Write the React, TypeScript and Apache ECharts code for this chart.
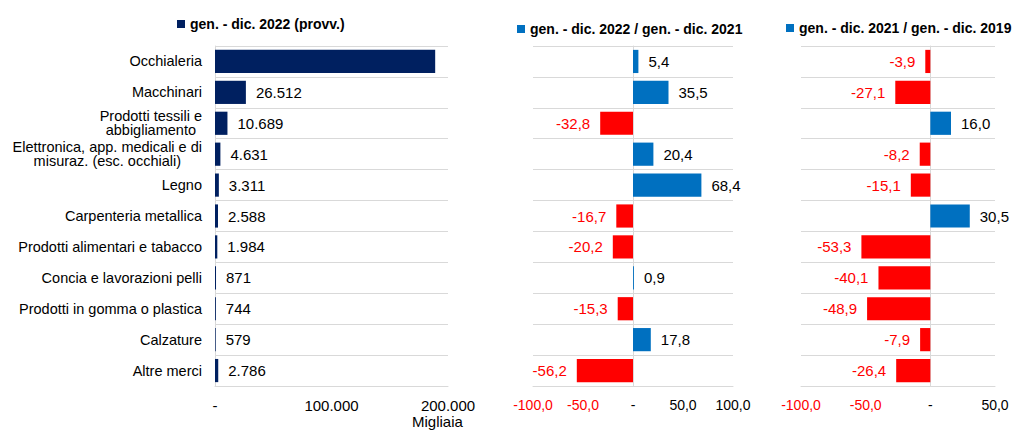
import React, { useEffect, useRef } from "react";
import * as echarts from "echarts";

const categories = [
  "Occhialeria",
  "Macchinari",
  "Prodotti tessili e\nabbigliamento",
  "Elettronica, app. medicali e di\nmisuraz. (esc. occhiali)",
  "Legno",
  "Carpenteria metallica",
  "Prodotti alimentari e tabacco",
  "Concia e lavorazioni pelli",
  "Prodotti in gomma o plastica",
  "Calzature",
  "Altre merci",
];

const values2022 = [189000, 26512, 10689, 4631, 3311, 2588, 1984, 871, 744, 579, 2786];
const change22vs21 = [5.4, 35.5, -32.8, 20.4, 68.4, -16.7, -20.2, 0.9, -15.3, 17.8, -56.2];
const change21vs19 = [-3.9, -27.1, 16.0, -8.2, -15.1, 30.5, -53.3, -40.1, -48.9, -7.9, -26.4];

const seriesNames = [
  "gen. - dic. 2022 (provv.)",
  "gen. - dic. 2022 / gen. - dic. 2021",
  "gen. - dic. 2021 / gen. - dic. 2019",
];

const hiddenLabelIndex = [0];

const FONT = "'Liberation Sans', Arial, sans-serif";
const NAVY = "#002060";
const BLUE = "#0070C0";
const RED = "#FF0000";
const GRID_COLOR = "#d9d9d9";

function fmtThousands(v: number): string {
  const s = Math.round(Math.abs(v)).toString();
  const out = s.replace(/\B(?=(\d{3})+(?!\d))/g, ".");
  return (v < 0 ? "-" : "") + out;
}
function fmtDec(v: number): string {
  return v.toFixed(1).replace(".", ",");
}

export default function App() {
  const ref = useRef<HTMLDivElement>(null);
  useEffect(() => {
    document.body.style.margin = "0";
    if (!ref.current) return;
    const chart = echarts.init(ref.current, undefined, { renderer: "svg" });

    const grids = [
      { left: 215, top: 46, width: 233, height: 340 },
      { left: 533, top: 46, width: 200, height: 340 },
      { left: 801, top: 46, width: 194, height: 340 },
    ];

    const yAxisBase = (gi: number, showLabels: boolean) => ({
      type: "category",
      gridIndex: gi,
      data: categories,
      inverse: true,
      axisTick: { show: false },
      axisLine: { show: true, lineStyle: { color: GRID_COLOR, width: 1 } },
      splitLine: {
        show: true,
        lineStyle: { color: GRID_COLOR, width: 1 },
      },
      axisLabel: {
        show: showLabels,
        margin: 13,
        fontFamily: FONT,
        fontSize: 14.5,
        lineHeight: 14,
        color: "#000",
        formatter: (v: string) =>
          v.indexOf("\n") >= 0
            ? v
                .split("\n")
                .map((l) => `{c|${l}}`)
                .join("\n")
            : v,
        rich: {
          c: { align: "center", fontFamily: FONT, fontSize: 14.5, lineHeight: 14, color: "#000" },
        },
      },
    });

    const changeData = (arr: number[]) =>
      arr.map((v) =>
        v < 0
          ? {
              value: v,
              itemStyle: { color: RED },
              label: { position: "left", color: RED },
            }
          : { value: v }
      );

    const labelBase = {
      show: true,
      position: "right",
      distance: 10,
      fontFamily: FONT,
      fontSize: 15,
      color: "#000",
    };

    const legendText = { fontFamily: FONT, fontSize: 14, fontWeight: "bold", color: "#000" };

    const valueAxis = (gi: number, min: number, max: number, interval: number, fmt: (v: number) => string, colored: boolean, size: number) => ({
      type: "value",
      gridIndex: gi,
      min,
      max,
      interval,
      axisLine: { show: true, lineStyle: { color: GRID_COLOR, width: 1 } },
      axisTick: { show: false },
      splitLine: { show: false },
      axisLabel: {
        margin: 12,
        fontFamily: FONT,
        fontSize: size,
        color: colored ? (v: any) => (Number(v) < 0 ? RED : "#000") : "#000",
        formatter: fmt,
      },
    });

    const topLines = grids.map((g) => ({
      type: "rect",
      silent: true,
      z: 10,
      shape: { x: g.left, y: g.top, width: g.width, height: 1 },
      style: { fill: GRID_COLOR },
    }));

    const option: any = {
      animation: false,
      backgroundColor: "#fff",
      grid: grids,
      legend: [
        {
          data: [seriesNames[0]],
          left: 172,
          top: 12,
          itemWidth: 8,
          itemHeight: 8,
          icon: "rect",
          textStyle: legendText,
        },
        {
          data: [seriesNames[1]],
          left: 512,
          top: 17,
          itemWidth: 8,
          itemHeight: 8,
          icon: "rect",
          textStyle: legendText,
        },
        {
          data: [seriesNames[2]],
          left: 781,
          top: 16,
          itemWidth: 8,
          itemHeight: 8,
          icon: "rect",
          textStyle: legendText,
        },
      ],
      xAxis: [
        valueAxis(0, 0, 200000, 100000, (v: number) => (v === 0 ? "-" : fmtThousands(v)), false, 15),
        valueAxis(1, -100, 100, 50, (v: number) => (v === 0 ? "-" : fmtDec(v)), true, 14),
        valueAxis(2, -100, 50, 50, (v: number) => (v === 0 ? "-" : fmtDec(v)), true, 14),
      ],
      yAxis: [yAxisBase(0, true), yAxisBase(1, false), yAxisBase(2, false)],
      series: [
        {
          name: seriesNames[0],
          type: "bar",
          xAxisIndex: 0,
          yAxisIndex: 0,
          barCategoryGap: "25%",
          itemStyle: { color: NAVY },
          label: { ...labelBase, formatter: (p: any) => fmtThousands(p.value) },
          data: values2022.map((v, i) =>
            hiddenLabelIndex.indexOf(i) >= 0 ? { value: v, label: { show: false } } : { value: v }
          ),
        },
        {
          name: seriesNames[1],
          type: "bar",
          xAxisIndex: 1,
          yAxisIndex: 1,
          barCategoryGap: "25%",
          itemStyle: { color: BLUE },
          label: { ...labelBase, formatter: (p: any) => fmtDec(p.value) },
          data: changeData(change22vs21),
        },
        {
          name: seriesNames[2],
          type: "bar",
          xAxisIndex: 2,
          yAxisIndex: 2,
          barCategoryGap: "25%",
          itemStyle: { color: BLUE },
          label: { ...labelBase, formatter: (p: any) => fmtDec(p.value) },
          data: changeData(change21vs19),
        },
      ],
      graphic: [
        ...topLines,
        {
          type: "text",
          left: 412,
          top: 414,
          style: { text: "Migliaia", fontFamily: FONT, fontSize: 15, fill: "#000" },
        },
      ],
    };

    chart.setOption(option);
    return () => chart.dispose();
  }, []);

  return <div ref={ref} style={{ width: 1018, height: 431 }} />;
}
